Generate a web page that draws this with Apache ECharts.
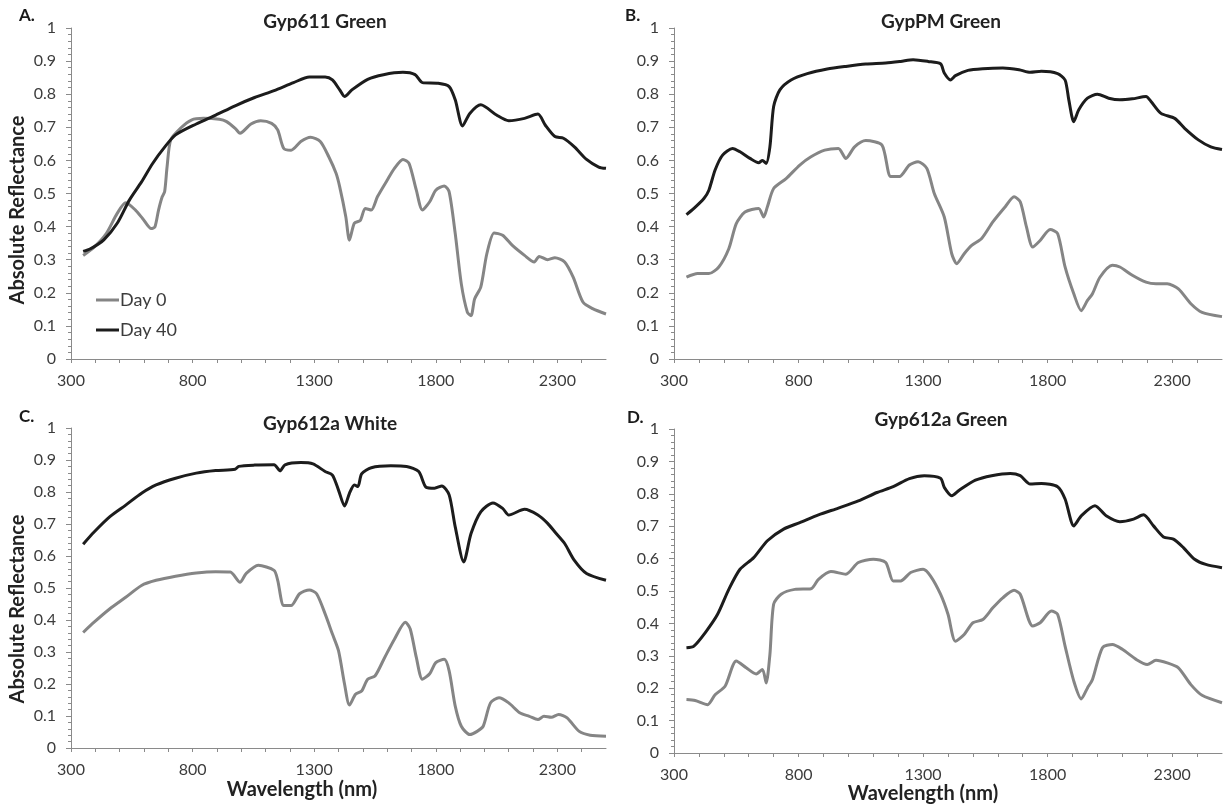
<!DOCTYPE html>
<html><head><meta charset="utf-8">
<script src="https://cdn.jsdelivr.net/npm/echarts@6/dist/echarts.min.js"></script>
<style>html,body{margin:0;padding:0;background:#fff}#c{width:1226px;height:807px}</style>
</head><body><div id="c"></div>
<script>
// ---- data (wavelength nm, absolute reflectance) ----
const xLabelTicks = [300, 800, 1300, 1800, 2300];
const panelLetters = ['A.', 'B.', 'C.', 'D.'];
const panelTitles = ['Gyp611 Green', 'GypPM Green', 'Gyp612a White', 'Gyp612a Green'];
const seriesNames = ['Day 0', 'Day 40'];

const gyp611Day0 = [[350,0.313],[395,0.338],[445,0.379],[490,0.44],[525,0.472],[565,0.45],[595,0.424],[630,0.394],[645,0.399],[660,0.45],[675,0.49],[685,0.505],[695,0.58],[710,0.662],[750,0.697],[795,0.722],[845,0.727],[910,0.724],[940,0.717],[975,0.697],[995,0.682],[1040,0.71],[1080,0.72],[1125,0.712],[1150,0.692],[1175,0.636],[1205,0.631],[1245,0.657],[1285,0.67],[1325,0.657],[1360,0.611],[1390,0.561],[1405,0.52],[1430,0.43],[1445,0.359],[1465,0.41],[1490,0.419],[1510,0.455],[1535,0.45],[1560,0.49],[1600,0.54],[1630,0.576],[1665,0.603],[1690,0.591],[1720,0.51],[1745,0.45],[1775,0.475],[1800,0.51],[1835,0.523],[1855,0.505],[1880,0.379],[1905,0.227],[1930,0.141],[1945,0.131],[1960,0.182],[1985,0.217],[2010,0.318],[2040,0.381],[2075,0.374],[2115,0.343],[2165,0.313],[2205,0.293],[2225,0.31],[2260,0.3],[2290,0.306],[2330,0.293],[2365,0.247],[2405,0.172],[2445,0.152],[2500,0.136]];
const gyp611Day40 = [[350,0.325],[380,0.333],[435,0.36],[490,0.41],[540,0.48],[590,0.535],[635,0.59],[685,0.64],[730,0.677],[815,0.71],[895,0.737],[975,0.765],[1055,0.79],[1135,0.811],[1215,0.835],[1280,0.852],[1345,0.852],[1375,0.843],[1405,0.813],[1425,0.793],[1455,0.813],[1520,0.845],[1585,0.859],[1665,0.866],[1715,0.859],[1745,0.835],[1810,0.833],[1855,0.823],[1880,0.783],[1910,0.704],[1940,0.742],[1985,0.768],[2050,0.737],[2100,0.72],[2165,0.727],[2220,0.74],[2250,0.707],[2290,0.672],[2325,0.667],[2370,0.641],[2420,0.603],[2470,0.58],[2500,0.576]];

const gypPMDay0 = [[350,0.247],[395,0.258],[440,0.258],[480,0.278],[520,0.333],[550,0.409],[585,0.444],[640,0.455],[660,0.429],[675,0.46],[700,0.515],[750,0.545],[805,0.586],[850,0.611],[905,0.631],[960,0.636],[990,0.606],[1025,0.641],[1070,0.66],[1135,0.646],[1170,0.551],[1205,0.551],[1245,0.586],[1280,0.596],[1315,0.576],[1345,0.5],[1385,0.429],[1415,0.318],[1435,0.288],[1465,0.318],[1495,0.343],[1535,0.364],[1580,0.414],[1630,0.46],[1665,0.49],[1690,0.475],[1715,0.399],[1740,0.338],[1770,0.358],[1810,0.391],[1840,0.379],[1870,0.278],[1905,0.197],[1935,0.146],[1960,0.177],[1980,0.197],[2010,0.247],[2060,0.283],[2090,0.278],[2140,0.253],[2195,0.232],[2235,0.227],[2280,0.227],[2325,0.212],[2375,0.167],[2420,0.141],[2500,0.128]];
const gypPMDay40 = [[350,0.436],[380,0.455],[420,0.485],[440,0.51],[465,0.571],[495,0.616],[535,0.636],[565,0.626],[605,0.606],[640,0.593],[655,0.6],[670,0.591],[685,0.641],[700,0.763],[725,0.813],[770,0.843],[835,0.862],[915,0.876],[990,0.884],[1070,0.891],[1150,0.894],[1210,0.899],[1260,0.904],[1320,0.899],[1370,0.892],[1385,0.864],[1410,0.843],[1430,0.856],[1480,0.872],[1540,0.877],[1620,0.879],[1685,0.874],[1730,0.866],[1775,0.869],[1840,0.862],[1870,0.843],[1885,0.783],[1905,0.717],[1925,0.753],[1960,0.788],[2000,0.8],[2045,0.788],[2090,0.783],[2140,0.786],[2195,0.793],[2215,0.778],[2255,0.742],[2310,0.727],[2350,0.697],[2405,0.662],[2455,0.641],[2500,0.633]];

const gyp612aWhiteDay0 = [[350,0.361],[395,0.393],[460,0.435],[525,0.471],[590,0.508],[650,0.524],[730,0.537],[815,0.547],[895,0.551],[955,0.55],[995,0.518],[1020,0.545],[1070,0.571],[1135,0.555],[1150,0.524],[1175,0.445],[1205,0.445],[1240,0.482],[1280,0.494],[1310,0.482],[1345,0.419],[1375,0.356],[1400,0.304],[1425,0.199],[1445,0.134],[1470,0.168],[1495,0.178],[1520,0.215],[1550,0.225],[1590,0.283],[1630,0.34],[1675,0.393],[1695,0.372],[1720,0.283],[1745,0.215],[1775,0.232],[1800,0.267],[1835,0.277],[1855,0.241],[1880,0.131],[1905,0.068],[1940,0.042],[1970,0.052],[1995,0.068],[2025,0.141],[2060,0.157],[2100,0.141],[2145,0.11],[2185,0.099],[2220,0.089],[2245,0.099],[2275,0.096],[2305,0.105],[2340,0.094],[2390,0.052],[2435,0.04],[2500,0.037]];
const gyp612aWhiteDay40 = [[350,0.637],[395,0.675],[460,0.723],[525,0.759],[590,0.796],[650,0.822],[730,0.843],[815,0.859],[895,0.867],[975,0.871],[990,0.88],[1055,0.884],[1135,0.885],[1160,0.866],[1180,0.885],[1245,0.892],[1295,0.888],[1345,0.864],[1375,0.853],[1400,0.806],[1425,0.756],[1445,0.796],[1465,0.822],[1480,0.817],[1495,0.857],[1535,0.876],[1615,0.882],[1680,0.88],[1730,0.864],[1760,0.815],[1795,0.812],[1825,0.819],[1855,0.791],[1880,0.691],[1915,0.581],[1945,0.67],[1985,0.738],[2035,0.766],[2075,0.749],[2100,0.728],[2165,0.746],[2220,0.728],[2260,0.702],[2290,0.675],[2330,0.639],[2370,0.586],[2420,0.545],[2500,0.524]];

const gyp612aGreenDay0 = [[350,0.165],[385,0.162],[435,0.149],[465,0.18],[505,0.206],[550,0.284],[590,0.263],[630,0.244],[655,0.258],[670,0.216],[685,0.304],[700,0.459],[730,0.49],[785,0.505],[850,0.507],[880,0.536],[930,0.56],[990,0.552],[1040,0.588],[1100,0.598],[1150,0.588],[1180,0.531],[1210,0.531],[1250,0.557],[1300,0.567],[1330,0.546],[1370,0.49],[1400,0.428],[1430,0.345],[1465,0.366],[1500,0.402],[1540,0.412],[1580,0.448],[1620,0.479],[1665,0.502],[1690,0.49],[1740,0.392],[1770,0.402],[1815,0.438],[1840,0.428],[1870,0.33],[1905,0.222],[1935,0.167],[1960,0.201],[1980,0.227],[2020,0.325],[2060,0.335],[2100,0.32],[2155,0.289],[2200,0.273],[2235,0.286],[2280,0.278],[2325,0.263],[2375,0.211],[2420,0.178],[2500,0.155]];
const gyp612aGreenDay40 = [[350,0.325],[380,0.33],[425,0.371],[475,0.428],[520,0.505],[565,0.567],[620,0.603],[675,0.655],[740,0.691],[805,0.711],[880,0.735],[960,0.756],[1040,0.778],[1115,0.804],[1180,0.822],[1245,0.847],[1305,0.856],[1370,0.848],[1385,0.82],[1415,0.794],[1445,0.811],[1510,0.842],[1575,0.856],[1650,0.863],[1690,0.856],[1730,0.83],[1775,0.832],[1840,0.822],[1870,0.784],[1905,0.701],[1935,0.732],[1990,0.763],[2035,0.732],[2090,0.714],[2145,0.722],[2185,0.735],[2225,0.701],[2265,0.667],[2305,0.66],[2345,0.634],[2390,0.598],[2435,0.582],[2500,0.572]];

const panelData = [
  [gyp611Day0, gyp611Day40],
  [gypPMDay0, gypPMDay40],
  [gyp612aWhiteDay0, gyp612aWhiteDay40],
  [gyp612aGreenDay0, gyp612aGreenDay40]
];

// ---- layout / style ----
const FONT = 'Lato, "Open Sans", sans-serif';
const grids = [
  {left: 71, top: 28, width: 535, height: 331},
  {left: 674, top: 28, width: 548, height: 331},
  {left: 71, top: 428, width: 535, height: 320},
  {left: 674, top: 429, width: 548, height: 324}
];
const lineColors = ['#858585', '#1c1c1c'];
const axisColor = '#8a8a8a';

const chart = echarts.init(document.getElementById('c'), null, {renderer: 'canvas'});

const xAxes = grids.map((g, i) => ({
  type: 'value', gridIndex: i, min: 300, max: 2500, interval: 100,
  axisLine: {show: true, onZero: false, lineStyle: {color: axisColor, width: 1}},
  axisTick: {show: true, length: 4, lineStyle: {color: axisColor}},
  splitLine: {show: false},
  axisLabel: {
    margin: 14, color: '#3c3c3c', fontSize: 16, fontFamily: FONT,
    formatter: v => xLabelTicks.indexOf(v) >= 0 ? String(v) : '',
    showMaxLabel: false
  }
}));
const yAxes = grids.map((g, i) => ({
  type: 'value', gridIndex: i, min: 0, max: 1, interval: 0.1,
  axisLine: {show: true, onZero: false, lineStyle: {color: axisColor, width: 1}},
  axisTick: {show: true, length: 5, lineStyle: {color: axisColor}},
  minorTick: {show: true, splitNumber: 5, length: 3, lineStyle: {color: axisColor}},
  splitLine: {show: false},
  axisLabel: {margin: 15, color: '#3c3c3c', fontSize: 16, fontFamily: FONT}
}));

const series = [];
panelData.forEach((pair, i) => {
  pair.forEach((d, k) => {
    series.push({
      type: 'line', name: seriesNames[k], xAxisIndex: i, yAxisIndex: i,
      data: d, showSymbol: false, smooth: 0.25,
      lineStyle: {color: lineColors[k], width: 3},
      itemStyle: {color: lineColors[k]}, z: 2 + k, silent: true
    });
  });
});

const graphic = [];
const letterPos = [[19, 16], [625, 16], [19, 417], [627, 418]];
const titlePos = [[325, 22], [941, 22], [330, 424], [941, 420]];
panelLetters.forEach((t, i) => {
  graphic.push({type: 'text', x: letterPos[i][0], y: letterPos[i][1],
    style: {text: t, font: 'bold 17px ' + FONT, fill: '#1a1a1a', textAlign: 'left', textVerticalAlign: 'middle'}});
  graphic.push({type: 'text', x: titlePos[i][0], y: titlePos[i][1],
    style: {text: panelTitles[i], font: 'bold 19px ' + FONT, fill: '#222', textAlign: 'center', textVerticalAlign: 'middle'}});
});
[[18, 210], [18, 609]].forEach(p => {
  graphic.push({type: 'text', x: p[0], y: p[1], rotation: Math.PI / 2,
    style: {text: 'Absolute Reflectance', font: 'bold 20px ' + FONT, fill: '#222', textAlign: 'center', textVerticalAlign: 'middle'}});
});
[[302, 790], [923, 794]].forEach(p => {
  graphic.push({type: 'text', x: p[0], y: p[1],
    style: {text: 'Wavelength (nm)', font: 'bold 20px ' + FONT, fill: '#222', textAlign: 'center', textVerticalAlign: 'middle'}});
});

chart.setOption({
  backgroundColor: '#fff',
  animation: false,
  grid: grids,
  xAxis: xAxes,
  yAxis: yAxes,
  legend: {
    data: seriesNames, left: 91, top: 286, orient: 'vertical',
    icon: 'rect', itemWidth: 23, itemHeight: 3, itemGap: 12,
    textStyle: {fontSize: 18, color: '#3c3c3c', fontFamily: FONT, padding: [0, 0, 0, -4]},
    selectedMode: false
  },
  series: series,
  graphic: graphic
});
</script></body></html>
